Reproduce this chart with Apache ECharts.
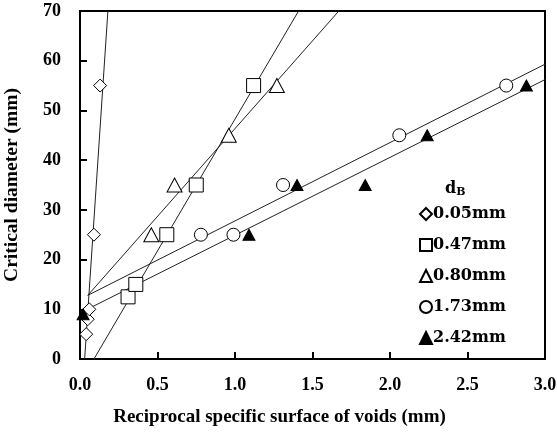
<!DOCTYPE html>
<html>
<head>
<meta charset="utf-8">
<script src="https://cdn.jsdelivr.net/npm/echarts@6/dist/echarts.min.js"></script>
<style>
  html, body { margin: 0; padding: 0; background: #fff; }
  #chart { width: 557px; height: 438px; }
</style>
</head>
<body>
<div id="chart"></div>
<script>
// Measured points: reciprocal specific surface of voids (mm) vs critical diameter (mm)
const x005 = [0.04, 0.05, 0.06, 0.09, 0.13];
const y005 = [5, 8, 10, 25, 55];
const x047 = [0.31, 0.36, 0.56, 0.75, 1.12];
const y047 = [12.5, 15, 25, 35, 55];
const x080 = [0.46, 0.61, 0.96, 1.27];
const y080 = [25, 35, 45, 55];
const x173 = [0.78, 0.99, 1.31, 2.06, 2.75];
const y173 = [25, 25, 35, 45, 55];
const x242 = [0.02, 1.09, 1.40, 1.84, 2.24, 2.88];
const y242 = [9, 25, 35, 35, 45, 55];

// Fitted straight lines, as start / end points in data units
const fit005 = [[0.03, 0], [0.18, 70]];
const fit047 = [[0.09, 0], [1.41, 70]];
const fit080 = [[0.05, 12.8], [1.67, 70]];
const fit173 = [[0.05, 12.8], [3.0, 59.3]];
const fit242 = [[0.06, 10.2], [3.0, 56.2]];

const legendNames = ['0.05mm', '0.47mm', '0.80mm', '1.73mm', '2.42mm'];
const xTicks = { min: 0, max: 3, interval: 0.5 };
const yTicks = { min: 0, max: 70, interval: 10 };

const SERIF = '"Liberation Serif", "Times New Roman", serif';
const WIDE_SERIF = '"DejaVu Serif", serif';

function pairs(xs, ys) { return xs.map((x, i) => [x, ys[i]]); }

function pointSeries(name, xs, ys, symbol, size, filled) {
  return {
    name: name,
    type: 'scatter',
    data: pairs(xs, ys),
    symbol: symbol,
    symbolSize: size,
    itemStyle: {
      color: filled ? '#000' : '#fff',
      borderColor: '#000',
      borderWidth: 1,
      opacity: 1
    },
    z: 5
  };
}

function fitSeries(name, pts) {
  return {
    name: name,
    type: 'line',
    data: pts,
    showSymbol: false,
    symbol: 'none',
    silent: true,
    lineStyle: { color: '#222', width: 1 },
    z: 3
  };
}

const chart = echarts.init(document.getElementById('chart'), null, { renderer: 'canvas' });

chart.setOption({
  animation: false,
  backgroundColor: '#fff',
  textStyle: { fontFamily: SERIF },
  grid: {
    left: 80, right: 12, top: 11, bottom: 79,
    outerBoundsMode: 'none',
    containLabel: false,
    show: true, borderColor: '#000', borderWidth: 2, backgroundColor: 'transparent'
  },
  xAxis: {
    type: 'value',
    min: xTicks.min, max: xTicks.max, interval: xTicks.interval,
    name: 'Reciprocal specific surface of voids (mm)',
    nameLocation: 'middle',
    nameGap: 49,
    nameTextStyle: {
      fontFamily: SERIF, fontWeight: 'bold', fontSize: 19, color: '#000',
      padding: [0, 66, 0, 0]
    },
    axisLine: { lineStyle: { color: '#000', width: 2 } },
    axisTick: { inside: true, length: 7, lineStyle: { color: '#000', width: 2 } },
    axisLabel: {
      margin: 17, color: '#000', fontFamily: SERIF, fontWeight: 'bold', fontSize: 18,
      formatter: v => v.toFixed(1)
    },
    splitLine: { show: false }
  },
  yAxis: {
    type: 'value',
    min: yTicks.min, max: yTicks.max, interval: yTicks.interval,
    name: 'Critical diameter (mm)',
    nameLocation: 'middle',
    nameGap: 58,
    nameTextStyle: { fontFamily: SERIF, fontWeight: 'bold', fontSize: 19.5, color: '#000' },
    axisLine: { lineStyle: { color: '#000', width: 2 } },
    axisTick: { inside: true, length: 7, lineStyle: { color: '#000', width: 2 } },
    axisLabel: {
      margin: 19, color: '#000', fontFamily: SERIF, fontWeight: 'bold', fontSize: 18
    },
    splitLine: { show: false }
  },
  legend: {
    data: legendNames,
    orient: 'vertical',
    left: 414,
    top: 201,
    itemWidth: 12,
    itemHeight: 12,
    itemGap: 15,
    selectedMode: false,
    textStyle: { fontFamily: WIDE_SERIF, fontWeight: 'bold', fontSize: 16, color: '#000', padding: [0, 0, 0, -4] }
  },
  graphic: [{
    type: 'text',
    left: 445,
    top: 181,
    style: {
      text: '{a|d}{b|B}',
      rich: {
        a: { fontFamily: WIDE_SERIF, fontWeight: 'bold', fontSize: 16, fill: '#000' },
        b: { fontFamily: WIDE_SERIF, fontWeight: 'bold', fontSize: 11, fill: '#000', verticalAlign: 'bottom', padding: [7, 0, 0, 0] }
      }
    }
  }],
  series: [
    fitSeries('fit 0.05mm', fit005),
    fitSeries('fit 0.47mm', fit047),
    fitSeries('fit 0.80mm', fit080),
    fitSeries('fit 1.73mm', fit173),
    fitSeries('fit 2.42mm', fit242),
    pointSeries('0.05mm', x005, y005, 'diamond', 13, false),
    pointSeries('0.47mm', x047, y047, 'rect', 14, false),
    pointSeries('0.80mm', x080, y080, 'triangle', [15, 14], false),
    pointSeries('1.73mm', x173, y173, 'circle', 13, false),
    pointSeries('2.42mm', x242, y242, 'triangle', [12, 11], true)
  ]
});
</script>
</body>
</html>
